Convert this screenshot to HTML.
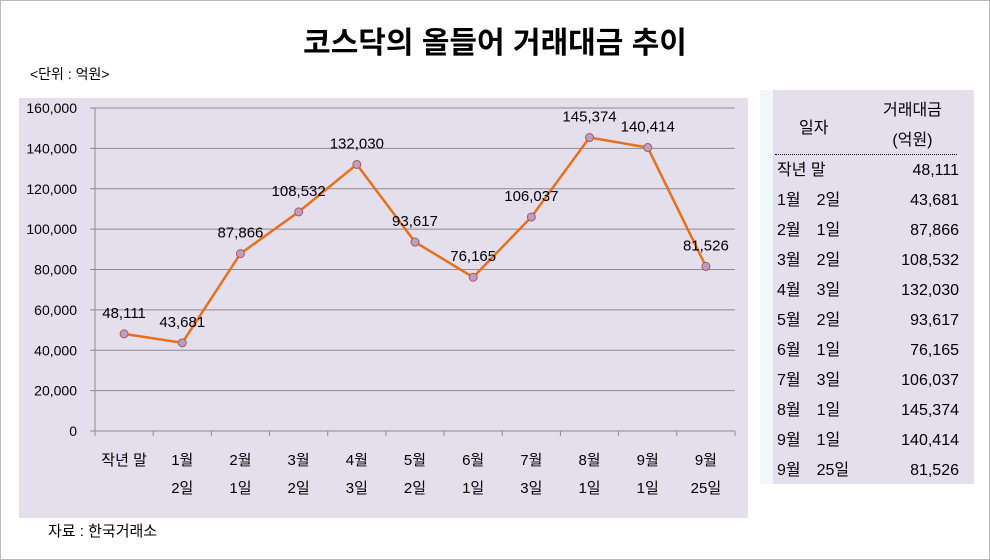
<!DOCTYPE html>
<html><head><meta charset="utf-8"><style>
body{margin:0;width:990px;height:560px;background:#fff;font-family:"Liberation Sans","Noto Sans CJK KR",sans-serif;position:relative;overflow:hidden}
.frame{position:absolute;left:0;top:0;width:988px;height:558px;border:1px solid #bbb}
#title{position:absolute;left:0;width:990px;top:18px;text-align:center;font-size:30px;font-weight:bold;color:#000}
#unit{position:absolute;left:30px;top:64px;font-size:14px}
#src{position:absolute;left:48px;top:520px;font-size:15px}
#tbl{position:absolute;left:760px;top:90px;width:214px;height:394px;background:#f0f8fc}
#tblin{position:absolute;left:13px;top:0;width:201px;height:394px;background:#e4dfec;font-size:16px}
.row{position:absolute;left:4px;width:182px;height:24px;display:flex;justify-content:space-between;align-items:baseline;line-height:24px}
</style></head><body>
<div class="frame"></div>
<div id="title">코스닥의 올들어 거래대금 추이</div>
<div id="unit">&lt;단위 : 억원&gt;</div>
<svg id="chart" width="990" height="560" style="position:absolute;left:0;top:0"></svg>
<div id="src">자료 : 한국거래소</div>
<div id="tbl"><div id="tblin">
<div style="position:absolute;left:26px;top:24px;font-size:16px">일자</div>
<div style="position:absolute;left:110px;top:6px;font-size:16px;text-align:center;line-height:30px">거래대금<br>(억원)</div>
<div style="position:absolute;left:2px;top:64px;width:182px;border-top:1px dotted #000"></div>
</div></div>
<script>
const categories=["작년 말","1월|2일","2월|1일","3월|2일","4월|3일","5월|2일","6월|1일","7월|3일","8월|1일","9월|1일","9월|25일"];
const tableDates=["작년 말","1월　2일","2월　1일","3월　2일","4월　3일","5월　2일","6월　1일","7월　3일","8월　1일","9월　1일","9월　25일"];
const values=[48111,43681,87866,108532,132030,93617,76165,106037,145374,140414,81526];
const yTicks=[0,20000,40000,60000,80000,100000,120000,140000,160000];
const NS="http://www.w3.org/2000/svg";
const svg=document.getElementById('chart');
const X0=95,X1=735,Y0=431,Y1=108,YMAX=160000;
const step=(X1-X0)/categories.length;
const xs=i=>X0+step*(i+0.5);
const ys=v=>Y0-(v/YMAX)*(Y0-Y1);
function mk(t,a){const e=document.createElementNS(NS,t);for(const k in a)e.setAttribute(k,a[k]);svg.appendChild(e);return e;}
const bg=mk('rect',{x:19,y:98,width:729,height:420,fill:'#e4dfec'});


yTicks.forEach(t=>{
 const g=mk('line',{x1:90,x2:X1,y1:ys(t),y2:ys(t),stroke:'#8c8c8c','stroke-width':1});
 
 
 const l=mk('text',{x:77,y:ys(t)+5,'text-anchor':'end','font-size':14,fill:'#000'});
 l.textContent=t.toLocaleString('en-US');
 
 
});
const ax=mk('line',{x1:X0,x2:X0,y1:Y1,y2:Y0+5,stroke:'#8c8c8c'});


categories.forEach((c,i)=>{
 const tk=mk('line',{x1:X0+step*(i+1),x2:X0+step*(i+1),y1:Y0,y2:Y0+5,stroke:'#8c8c8c'});
 
 
 c.split('|').forEach((p,j)=>{
  const t=mk('text',{x:xs(i),y:465+j*28,'text-anchor':'middle','font-size':15,fill:'#000'});
  t.textContent=p;
  
  
 });
});
const line=mk('polyline',{points:values.map((v,i)=>xs(i)+','+ys(v)).join(' '),fill:'none',stroke:'#e7711b','stroke-width':2.5});


values.forEach((v,i)=>{
 const c=mk('circle',{cx:xs(i),cy:ys(v),r:4,fill:'#b3a2c7',stroke:'#c0504d','stroke-width':1});
 
 
 const t=mk('text',{x:xs(i),y:ys(v)-16,'text-anchor':'middle','font-size':15,fill:'#000'});
 t.textContent=v.toLocaleString('en-US');
 
 
});
const tin=document.getElementById('tblin');
values.forEach((v,i)=>{
 const r=document.createElement('div');r.className='row';r.style.top=(69+i*30)+'px';
 r.innerHTML='<span>'+tableDates[i]+'</span><span>'+v.toLocaleString('en-US')+'</span>';
 
 
 tin.appendChild(r);
});
</script>
</body></html>
